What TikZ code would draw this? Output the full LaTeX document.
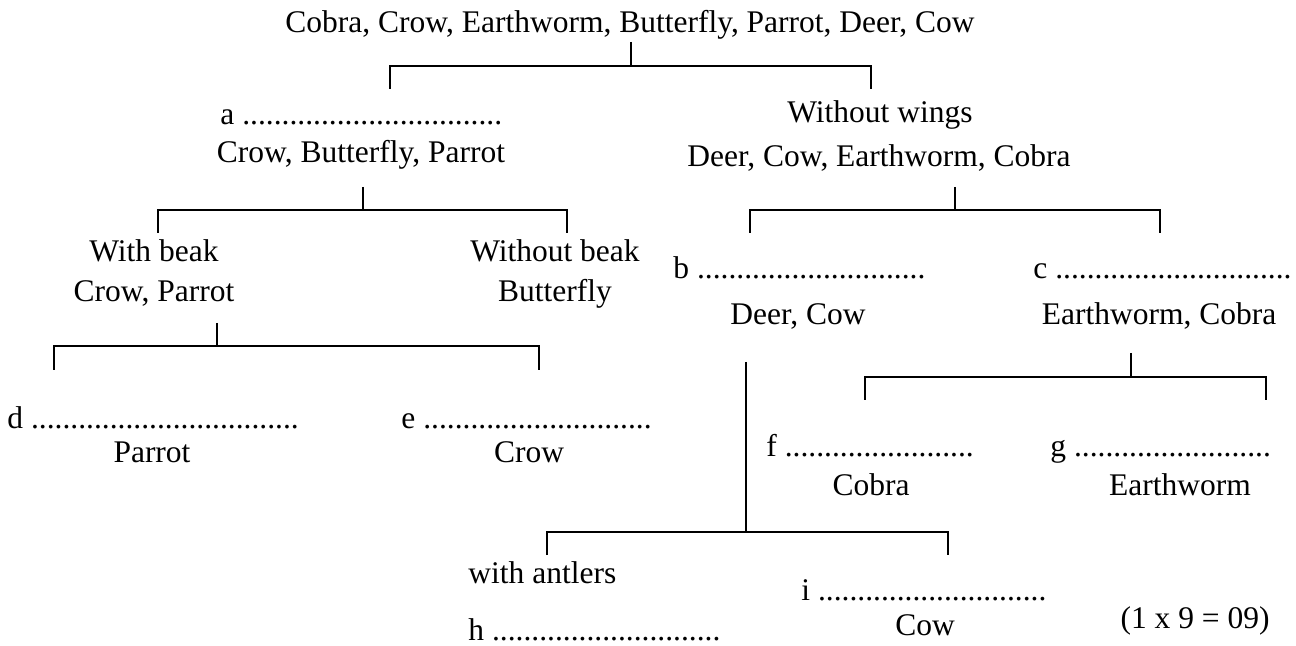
\documentclass[tikz,border=0pt]{standalone}
\usepackage{fontspec}
\setmainfont{Liberation Serif}
\usepackage{tikz}

\begin{document}
\begin{tikzpicture}[x=0.5pt,y=-0.5pt,
	every node/.style={font=\rmfamily\fontsize{15.75}{19}\selectfont, inner sep=0pt},
	key/.style={anchor=base west},
	list/.style={anchor=base},
	fork/.style={line width=0.8pt}]
	\useasboundingbox (0,0) rectangle (1296,646);

	% all animals
	\node[list] (top) at (630,33) {Cobra, Crow, Earthworm, Butterfly, Parrot, Deer, Cow};

	% with wings / without wings
	\node[key] (a-key) at (220,125) {a .................................};
	\node[list] (a-list) at (361,163) {Crow, Butterfly, Parrot};
	\node[list] (nw) at (880,123) {Without wings};
	\node[list] (nw-list) at (879,167) {Deer, Cow, Earthworm, Cobra};

	% beak
	\node[list] (wb) at (154,262) {With beak};
	\node[list] (wb-list) at (154,302) {Crow, Parrot};
	\node[list] (nb) at (555,262) {Without beak};
	\node[list] (nb-list) at (555,302) {Butterfly};

	\node[key] (d-key) at (7,429) {d ..................................};
	\node[list] (d-list) at (152,463) {Parrot};
	\node[key] (e-key) at (401,429) {e .............................};
	\node[list] (e-list) at (529,463) {Crow};

	% legs
	\node[key] (b-key) at (673,279) {b .............................};
	\node[list] (b-list) at (798,325) {Deer, Cow};
	\node[key] (c-key) at (1033,279) {c ..............................};
	\node[list] (c-list) at (1159,325) {Earthworm, Cobra};

	\node[key] (f-key) at (766,457) {f ........................};
	\node[list] (f-list) at (871,495) {Cobra};
	\node[key] (g-key) at (1050,457) {g .........................};
	\node[list] (g-list) at (1180,495) {Earthworm};

	% antlers
	\node[key] (antlers) at (468,583) {with antlers};
	\node[key] (h-key) at (468,640) {h .............................};
	\node[key] (i-key) at (801,600) {i .............................};
	\node[list] (i-list) at (925,635) {Cow};

	\node[list] (marks) at (1195,628) {(1 x 9 = 09)};

	% forks
	\coordinate (top-stem) at (631,42);
	\coordinate (a-leg) at (390,89);
	\coordinate (nw-leg) at (871,89);
	\draw[fork] (top-stem) -- ++(0,24) coordinate (top-fork);
	\draw[fork] (a-leg) |- (top-fork) -| (nw-leg);

	\coordinate (a-stem) at (363,187);
	\coordinate (wb-leg) at (158,233);
	\coordinate (nb-leg) at (567,233);
	\draw[fork] (a-stem) -- ++(0,23) coordinate (a-fork);
	\draw[fork] (wb-leg) |- (a-fork) -| (nb-leg);

	\coordinate (wb-stem) at (217,323);
	\coordinate (d-leg) at (54,370);
	\coordinate (e-leg) at (539,370);
	\draw[fork] (wb-stem) -- ++(0,23) coordinate (wb-fork);
	\draw[fork] (d-leg) |- (wb-fork) -| (e-leg);

	\coordinate (nw-stem) at (955,187);
	\coordinate (b-leg) at (750,233);
	\coordinate (c-leg) at (1160,233);
	\draw[fork] (nw-stem) -- ++(0,23) coordinate (nw-fork);
	\draw[fork] (b-leg) |- (nw-fork) -| (c-leg);

	\coordinate (b-stem) at (746,362);
	\coordinate (h-leg) at (547,555);
	\coordinate (i-leg) at (948,555);
	\draw[fork] (b-stem) -- ++(0,170) coordinate (b-fork);
	\draw[fork] (h-leg) |- (b-fork) -| (i-leg);

	\coordinate (c-stem) at (1131,353);
	\coordinate (f-leg) at (865,400);
	\coordinate (g-leg) at (1266,400);
	\draw[fork] (c-stem) -- ++(0,24) coordinate (c-fork);
	\draw[fork] (f-leg) |- (c-fork) -| (g-leg);
\end{tikzpicture}
\end{document}
